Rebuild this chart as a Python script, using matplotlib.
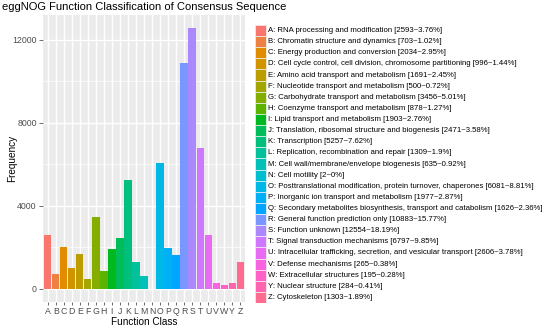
import numpy as np
import matplotlib
matplotlib.use("Agg")
import matplotlib.pyplot as plt
from matplotlib.patches import Rectangle

plt.rcParams['font.family'] = ['Liberation Sans', 'DejaVu Sans']

# data
classes = ['A', 'B', 'C', 'D', 'E', 'F', 'G', 'H', 'I', 'J', 'K', 'L', 'M',
           'N', 'O', 'P', 'Q', 'R', 'S', 'T', 'U', 'V', 'W', 'Y', 'Z']
counts = [2593, 703, 2034, 996, 1691, 500, 3456, 878, 1903, 2471, 5257, 1309, 635,
          2, 6081, 1977, 1626, 10883, 12554, 6797, 2606, 265, 195, 284, 1303]
percents = ['3.76', '1.02', '2.95', '1.44', '2.45', '0.72', '5.01', '1.27', '2.76',
            '3.58', '7.62', '1.9', '0.92', '0', '8.81', '2.87', '2.36', '15.77',
            '18.19', '9.85', '3.78', '0.38', '0.28', '0.41', '1.89']
descriptions = [
    'RNA processing and modification',
    'Chromatin structure and dynamics',
    'Energy production and conversion',
    'Cell cycle control, cell division, chromosome partitioning',
    'Amino acid transport and metabolism',
    'Nucleotide transport and metabolism',
    'Carbohydrate transport and metabolism',
    'Coenzyme transport and metabolism',
    'Lipid transport and metabolism',
    'Translation, ribosomal structure and biogenesis',
    'Transcription',
    'Replication, recombination and repair',
    'Cell wall/membrane/envelope biogenesis',
    'Cell motility',
    'Posttranslational modification, protein turnover, chaperones',
    'Inorganic ion transport and metabolism',
    'Secondary metabolites biosynthesis, transport and catabolism',
    'General function prediction only',
    'Function unknown',
    'Signal transduction mechanisms',
    'Intracellular trafficking, secretion, and vesicular transport',
    'Defense mechanisms',
    'Extracellular structures',
    'Nuclear structure',
    'Cytoskeleton',
]


def hcl_to_rgb(h, c=100, l=65):
    # polar Luv -> sRGB, like R's hcl()
    hr = np.deg2rad(h)
    u, v = c * np.cos(hr), c * np.sin(hr)
    xn, yn, zn = 95.047, 100.0, 108.883
    un = 4 * xn / (xn + 15 * yn + 3 * zn)
    vn = 9 * yn / (xn + 15 * yn + 3 * zn)
    y = yn * ((l + 16) / 116) ** 3
    up = u / (13 * l) + un
    vp = v / (13 * l) + vn
    x = y * 9 * up / (4 * vp)
    z = y * (12 - 3 * up - 20 * vp) / (4 * vp)
    xyz = np.array([x, y, z]) / 100
    m = np.array([[3.2404542, -1.5371385, -0.4985314],
                  [-0.9692660, 1.8760108, 0.0415560],
                  [0.0556434, -0.2040259, 1.0572252]])
    rgb = m @ xyz
    rgb = np.where(rgb <= 0.0031308, 12.92 * rgb, 1.055 * np.abs(rgb) ** (1 / 2.4) - 0.055)
    return tuple(np.clip(rgb, 0, 1))


n = len(classes)
hues = np.linspace(15, 375 - 360 / n, n)
colors = [hcl_to_rgb(h) for h in hues]

fig = plt.figure(figsize=(5.5, 3.3), dpi=100)
W, H = 550, 330

# main panel
pl, pr, pt, pb = 43, 245, 15, 302
ax = fig.add_axes([pl / W, 1 - pb / H, (pr - pl) / W, (pb - pt) / H])
ax.set_facecolor('#EBEBEB')
x = np.arange(1, n + 1)
ax.bar(x, counts, width=0.9, color=colors, zorder=3)
ax.set_xlim(0.4, n + 0.6)
ax.set_ylim(-0.05 * max(counts), 1.05 * max(counts))
ax.set_xticks(x)
ax.set_xticklabels(classes)
ax.set_yticks([0, 4000, 8000, 12000])
ax.set_yticks([2000, 6000, 10000], minor=True)
ax.grid(True, which='major', color='white', linewidth=1.0, zorder=0)
ax.grid(True, which='minor', axis='y', color='white', linewidth=0.5, zorder=0)
ax.set_axisbelow(True)
for s in ax.spines.values():
    s.set_visible(False)
ax.tick_params(axis='both', which='major', length=3, width=0.6, color='#555555',
               labelsize=6.3, labelcolor='#4D4D4D', pad=1.5)
ax.tick_params(axis='x', which='major', length=2.5, pad=1)
ax.tick_params(axis='y', which='minor', length=0)
ax.set_xlabel('Function Class', fontsize=7.2)
ax.set_ylabel('Frequency', fontsize=7.2)
ax.xaxis.set_label_coords(0.5, -(317 - pb) / (pb - pt))
ax.yaxis.set_label_coords(-(pl - 17) / (pr - pl), 0.5)

fig.text(2 / W, 1 - 7 / H, 'eggNOG Function Classification of Consensus Sequence',
         fontsize=8, va='center', ha='left')

# legend
lax = fig.add_axes([255 / W, 1 - 303 / H, (W - 255) / W, (303 - 25) / H])
lax.set_xlim(0, W - 255)
lax.set_ylim(n, 0)
lax.axis('off')
for i in range(n):
    lax.add_patch(Rectangle((0, i), 10.5, 1, facecolor=colors[i], edgecolor='#F2F2F2',
                            linewidth=0.5))
    lax.text(12.5, i + 0.5, f'{classes[i]}: {descriptions[i]} [{counts[i]}~{percents[i]}%]',
             fontsize=5.6, va='center', ha='left', color='black')

fig.savefig('out.png', dpi=100)
